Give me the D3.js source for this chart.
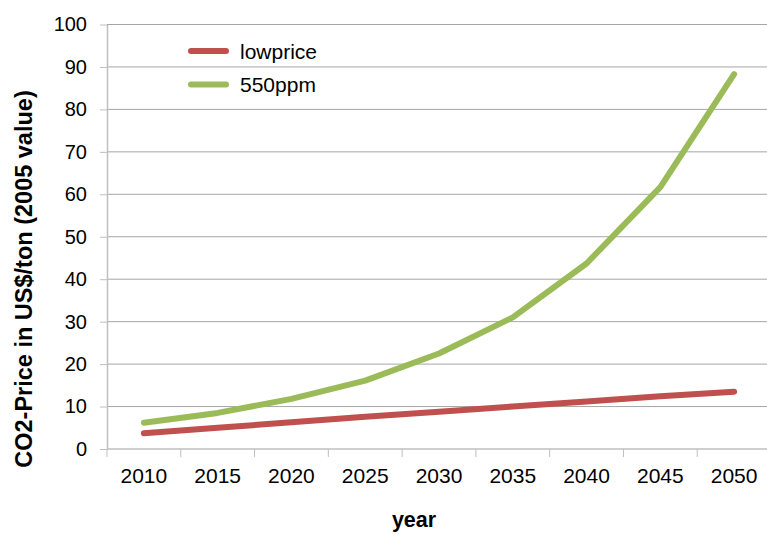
<!DOCTYPE html>
<html>
<head>
<meta charset="utf-8">
<script src="https://cdn.jsdelivr.net/npm/d3@7"></script>
<style>
  html, body { margin: 0; padding: 0; background: #fff; }
  svg { display: block; font-family: "Liberation Sans", Arial, sans-serif; }
</style>
</head>
<body>
<svg id="chart" width="767" height="534"></svg>
<script>
// CO2 price paths by scenario, US$/ton (2005 value)
const years = ["2010", "2015", "2020", "2025", "2030", "2035", "2040", "2045", "2050"];
const lowprice = [3.7, 5.0, 6.3, 7.6, 8.8, 10.0, 11.2, 12.4, 13.5];
const ppm550 = [6.2, 8.5, 11.8, 16.1, 22.5, 31.0, 43.7, 61.7, 88.3];
const yTicks = [0, 10, 20, 30, 40, 50, 60, 70, 80, 90, 100];

const series = [
  { name: "lowprice", values: lowprice, color: "#C0504D" },
  { name: "550ppm", values: ppm550, color: "#9BBB59" }
];

const svg = d3.select("#chart");
const plotL = 107, plotR = 771, plotT = 24.5, plotB = 449;

const x = d3.scaleBand().domain(years).range([plotL, plotR]);
const y = d3.scaleLinear().domain([0, 100]).range([plotB, plotT]);

// horizontal gridlines
svg.append("g")
  .selectAll("line")
  .data(yTicks.filter(d => d > 0))
  .join("line")
  .attr("x1", plotL).attr("x2", plotR)
  .attr("y1", d => y(d)).attr("y2", d => y(d))
  .attr("stroke", "#a6a6a6").attr("stroke-width", 1);

// y axis
const yAxis = svg.append("g")
  .attr("transform", `translate(${plotL},0)`)
  .call(d3.axisLeft(y).tickValues(yTicks).tickSize(7).tickPadding(13).tickSizeOuter(0));
yAxis.select(".domain").attr("stroke", "#bfbfbf").attr("stroke-width", 1.5);
yAxis.selectAll(".tick line").attr("stroke", "#bfbfbf");
yAxis.selectAll(".tick text")
  .attr("fill", "#000").attr("font-size", "20px")
  .attr("font-family", "Liberation Sans, Arial, sans-serif");

// x axis: tick marks on category boundaries
const xg = svg.append("g").attr("transform", `translate(0,${plotB})`);
xg.append("line").attr("x1", plotL).attr("x2", plotR).attr("y1", 0).attr("y2", 0)
  .attr("stroke", "#bfbfbf").attr("stroke-width", 1.5);
const boundaries = years.map(d => x(d)).concat([plotR]);
xg.selectAll("line.tk")
  .data(boundaries)
  .join("line").attr("class", "tk")
  .attr("x1", d => d).attr("x2", d => d)
  .attr("y1", 0).attr("y2", 8)
  .attr("stroke", "#bfbfbf").attr("stroke-width", 1);
xg.selectAll("text")
  .data(years)
  .join("text")
  .attr("x", d => x(d) + x.bandwidth() / 2)
  .attr("y", 34)
  .attr("text-anchor", "middle")
  .attr("font-size", "21px")
  .attr("fill", "#000")
  .text(d => d);

// series lines
const line = d3.line()
  .x((d, i) => x(years[i]) + x.bandwidth() / 2)
  .y(d => y(d));

svg.append("g")
  .selectAll("path")
  .data(series)
  .join("path")
  .attr("d", s => line(s.values))
  .attr("fill", "none")
  .attr("stroke", s => s.color)
  .attr("stroke-width", 6)
  .attr("stroke-linecap", "round")
  .attr("stroke-linejoin", "round");

// legend
const legend = svg.append("g")
  .selectAll("g")
  .data(series)
  .join("g")
  .attr("transform", (d, i) => `translate(191,${51 + i * 33.5})`);
legend.append("line")
  .attr("x1", 0).attr("x2", 35).attr("y1", 0).attr("y2", 0)
  .attr("stroke", d => d.color).attr("stroke-width", 6)
  .attr("stroke-linecap", "round");
legend.append("text")
  .attr("x", 49).attr("y", 7.5)
  .attr("font-size", "21px").attr("fill", "#000")
  .text(d => d.name);

// axis titles
svg.append("text")
  .attr("transform", "translate(32,279) rotate(-90)")
  .attr("text-anchor", "middle")
  .attr("font-size", "23.5px").attr("font-weight", "bold")
  .text("CO2-Price in US$/ton (2005 value)");
svg.append("text")
  .attr("x", 414).attr("y", 527)
  .attr("text-anchor", "middle")
  .attr("font-size", "21.5px").attr("font-weight", "bold")
  .text("year");
</script>
</body>
</html>
